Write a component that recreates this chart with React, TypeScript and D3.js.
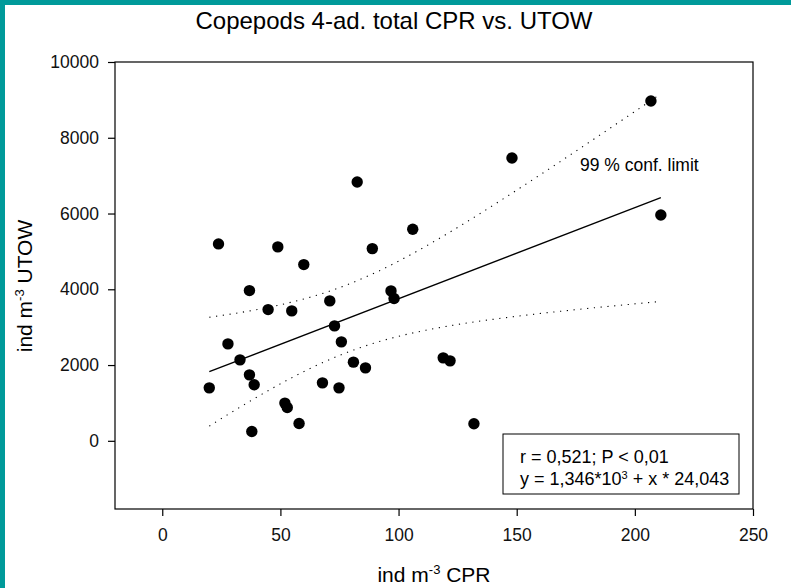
import * as d3 from 'd3';
import { useLayoutEffect, useRef } from 'react';

// CPR (x) vs UTOW (y), ind m^-3
const cprValues = [
  19.9, 23.8, 27.8, 32.9, 36.9, 36.9, 38.9, 37.9, 44.8, 48.9, 51.9, 52.9, 54.8, 57.9, 59.9, 67.8, 70.9,
  72.9, 74.8, 75.8, 80.9, 82.5, 86.0, 88.9, 96.8, 98.1, 106.0, 118.9, 121.8, 131.9, 148.0, 206.8, 211.0,
];
const utowValues = [
  1398, 5198, 2559, 2137, 3966, 1741, 1478, 245, 3464, 5119, 995, 879, 3430, 456, 4652, 1530, 3694,
  3034, 1398, 2612, 2077, 6834, 1926, 5074, 3958, 3755, 5586, 2190, 2111, 449, 7467, 8971, 5963,
];
const xTicks = [0, 50, 100, 150, 200, 250];
const yTicks = [0, 2000, 4000, 6000, 8000, 10000];

const intercept = 1346;
const slope = 24.043;
const tCrit = 2.744; // t(0.995, df = 31)

const font = '"Liberation Sans", Arial, sans-serif';

const App = () => {
  const ref = useRef<SVGSVGElement>(null);

  useLayoutEffect(() => {
    const width = 791;
    const height = 588;
    const margin = { top: 62, right: 38, bottom: 79, left: 115 };

    const svg = d3.select(ref.current);
    svg.selectAll('*').remove();

    const x = d3.scaleLinear().domain([-20, 250]).range([margin.left, width - margin.right]);
    const y = d3.scaleLinear().domain([-1800, 10000]).range([height - margin.bottom, margin.top]);

    // teal frame on top and left edge
    svg.append('rect').attr('x', 0).attr('y', 0).attr('width', width).attr('height', 5).attr('fill', '#009a9a');
    svg.append('rect').attr('x', 0).attr('y', 0).attr('width', 5).attr('height', height).attr('fill', '#009a9a');

    svg
      .append('text')
      .attr('x', 394)
      .attr('y', 29)
      .attr('text-anchor', 'middle')
      .attr('font-family', font)
      .attr('font-size', 24)
      .text('Copepods 4-ad. total CPR vs. UTOW');

    const xAxis = (g) =>
      g
        .attr('transform', `translate(0,${height - margin.bottom})`)
        .call(d3.axisBottom(x).tickValues(xTicks).tickFormat(d3.format('d')).tickSize(7).tickSizeOuter(0).tickPadding(13))
        .call((g) => g.select('.domain').remove());

    const yAxis = (g) =>
      g
        .attr('transform', `translate(${margin.left},0)`)
        .call(d3.axisLeft(y).tickValues(yTicks).tickFormat(d3.format('d')).tickSize(7).tickSizeOuter(0).tickPadding(9))
        .call((g) => g.select('.domain').remove());

    [svg.append('g').call(xAxis), svg.append('g').call(yAxis)].forEach((g) => {
      g.attr('font-family', font).attr('font-size', 17.5);
      g.selectAll('.tick line').attr('stroke', '#000').attr('stroke-width', 1.2);
      g.selectAll('.tick text').attr('fill', '#111');
    });

    svg
      .append('rect')
      .attr('x', margin.left)
      .attr('y', margin.top)
      .attr('width', width - margin.left - margin.right)
      .attr('height', height - margin.top - margin.bottom)
      .attr('fill', 'none')
      .attr('stroke', '#000')
      .attr('stroke-width', 1.2);

    // regression and 99% confidence band
    const n = cprValues.length;
    const xbar = d3.mean(cprValues);
    const sxx = d3.sum(cprValues, (v) => (v - xbar) ** 2);
    const sse = d3.sum(cprValues, (v, i) => (utowValues[i] - (intercept + slope * v)) ** 2);
    const s = Math.sqrt(sse / (n - 2));
    const [x0, x1] = d3.extent(cprValues);
    const xs = d3.range(x0, x1, (x1 - x0) / 100).concat([x1]);
    const fit = (v) => intercept + slope * v;
    const hw = (v) => tCrit * s * Math.sqrt(1 / n + (v - xbar) ** 2 / sxx);

    const line = d3
      .line()
      .x((d) => x(d[0]))
      .y((d) => y(d[1]));

    svg
      .append('path')
      .datum([[x0, fit(x0)], [x1, fit(x1)]])
      .attr('fill', 'none')
      .attr('stroke', '#000')
      .attr('stroke-width', 1.3)
      .attr('d', line);

    [1, -1].forEach((sign) => {
      svg
        .append('path')
        .datum(xs.map((v) => [v, fit(v) + sign * hw(v)]))
        .attr('fill', 'none')
        .attr('stroke', '#000')
        .attr('stroke-width', 1.1)
        .attr('stroke-dasharray', '1.2 5.6')
        .attr('d', line);
    });

    svg
      .append('g')
      .selectAll('circle')
      .data(cprValues)
      .join('circle')
      .attr('cx', (d) => x(d))
      .attr('cy', (d, i) => y(utowValues[i]))
      .attr('r', 5.7)
      .attr('fill', '#000');

    svg
      .append('text')
      .attr('x', 580)
      .attr('y', 171)
      .attr('font-family', font)
      .attr('font-size', 17.5)
      .text('99 % conf. limit');

    // stats box
    const box = svg.append('g').attr('font-family', font).attr('font-size', 18);
    box
      .append('rect')
      .attr('x', 503)
      .attr('y', 434)
      .attr('width', 236)
      .attr('height', 60)
      .attr('fill', '#fff')
      .attr('stroke', '#000')
      .attr('stroke-width', 1);
    box.append('text').attr('x', 520).attr('y', 463).text('r = 0,521; P < 0,01');
    const eq = box.append('text').attr('x', 520).attr('y', 485);
    eq.append('tspan').text('y = 1,346*10');
    eq.append('tspan').attr('dy', -6).attr('font-size', 11).text('3');
    eq.append('tspan').attr('dy', 6).text(' + x * 24,043');

    // axis titles
    const xt = svg
      .append('text')
      .attr('x', 434)
      .attr('y', 582)
      .attr('text-anchor', 'middle')
      .attr('font-family', font)
      .attr('font-size', 21);
    xt.append('tspan').text('ind m');
    xt.append('tspan').attr('dy', -8).attr('font-size', 13).text('-3');
    xt.append('tspan').attr('dy', 8).text(' CPR');

    const yt = svg
      .append('text')
      .attr('transform', 'translate(32,286) rotate(-90)')
      .attr('text-anchor', 'middle')
      .attr('font-family', font)
      .attr('font-size', 21);
    yt.append('tspan').text('ind m');
    yt.append('tspan').attr('dy', -8).attr('font-size', 13).text('-3');
    yt.append('tspan').attr('dy', 8).text(' UTOW');
  }, []);

  return (
    <svg
      ref={ref}
      width={791}
      height={588}
      style={{ position: 'absolute', left: 0, top: 0, background: '#fff' }}
    />
  );
};

export default App;
